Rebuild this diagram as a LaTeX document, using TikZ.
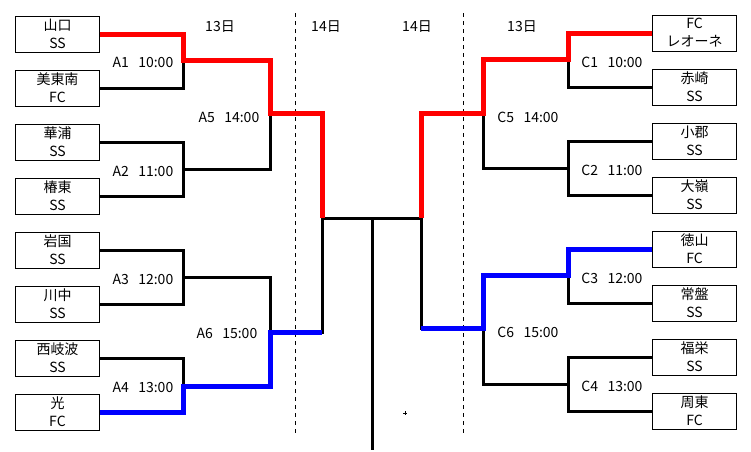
\documentclass[tikz,border=0pt]{standalone}
\usepackage{fontspec}
\setmainfont{Noto Sans CJK JP}
\usetikzlibrary{positioning, calc}
\definecolor{cred}{HTML}{FF0000}
\definecolor{cblue}{HTML}{0000FF}
\newcommand{\gap}{\hspace{7pt}}
\tikzset{
  every picture/.style={x=0.75pt, y=-0.75pt, font=\fontsize{10.5}{13.5}\selectfont},
  team/.style={draw, line width=0.75pt, minimum width=62.5pt, minimum height=27pt, align=center, inner sep=0.5pt},
  match/.style={inner sep=1pt},
  day/.style={inner sep=1pt},
  tie/.style={line width=2.25pt},
  win/.style={draw=#1, line width=3.75pt},
  win/.default=cred,
  divider/.style={line width=0.75pt, dashed},
}
\begin{document}
\begin{tikzpicture}
  \useasboundingbox (0,0) rectangle (751,451);
  % left block
  \node[team] (l1) at (57.5,34) {山口\\SS};
  \node[team] (l2) at (57.5,88) {美東南\\FC};
  \node[team] (l3) at (57.5,142) {華浦\\SS};
  \node[team] (l4) at (57.5,196) {椿東\\SS};
  \node[team] (l5) at (57.5,250) {岩国\\SS};
  \node[team] (l6) at (57.5,304) {川中\\SS};
  \node[team] (l7) at (57.5,358) {西岐波\\SS};
  \node[team] (l8) at (57.5,412) {光\\FC};
  % right block
  \node[team] (r1) at (694.5,33) {FC\\レオーネ};
  \node[team] (r2) at (694.5,87) {赤崎\\SS};
  \node[team] (r3) at (694.5,141) {小郡\\SS};
  \node[team] (r4) at (694.5,195) {大嶺\\SS};
  \node[team] (r5) at (694.5,249) {徳山\\FC};
  \node[team] (r6) at (694.5,303) {常盤\\SS};
  \node[team] (r7) at (694.5,357) {福栄\\SS};
  \node[team] (r8) at (694.5,411) {周東\\FC};
  % joints
  \coordinate (a1) at (183,60);  \coordinate (a2) at (183,169);
  \coordinate (a3) at (183,277); \coordinate (a4) at (183,386);
  \coordinate (a5) at (270,113); \coordinate (a6) at (270,332);
  \coordinate (c1) at (568,59);  \coordinate (c2) at (568,168);
  \coordinate (c3) at (568,275); \coordinate (c4) at (568,384);
  \coordinate (c5) at (483,113); \coordinate (c6) at (483,328);
  \coordinate (fl) at (322,218); \coordinate (fr) at (421,218);
  \coordinate (champ) at (372,218); \coordinate (base) at (372,450);
  % day labels and dividers
  \node[day] (d1) at (220,27) {13日};
  \node[day] (d2) at (326,27) {14日};
  \node[day] (d3) at (417,27) {14日};
  \node[day] (d4) at (522,27) {13日};
  \draw[divider] (295,13) -- (295,436);
  \draw[divider] (463,13) -- (463,436);
  % match labels
  \node[match] at (143,62) {A1\gap10:00};
  \node[match] at (143,171) {A2\gap11:00};
  \node[match] at (143,279) {A3\gap12:00};
  \node[match] at (143,387) {A4\gap13:00};
  \node[match] at (229,117) {A5\gap14:00};
  \node[match] at (227,333) {A6\gap15:00};
  \node[match] at (612,62) {C1\gap10:00};
  \node[match] at (612,170) {C2\gap11:00};
  \node[match] at (612,278) {C3\gap12:00};
  \node[match] at (612,386) {C4\gap13:00};
  \node[match] at (528,117) {C5\gap14:00};
  \node[match] at (528,332) {C6\gap15:00};
  % brackets
  \draw[tie] (l1.east) -| (a1); \draw[tie] (l2.east) -| (a1);
  \draw[tie] (l3.east) -| (a2); \draw[tie] (l4.east) -| (a2);
  \draw[tie] (l5.east) -| (a3); \draw[tie] (l6.east) -| (a3);
  \draw[tie] (l7.east) -| (a4); \draw[tie] (l8.east) -| (a4);
  \draw[tie] (a1) -| (a5); \draw[tie] (a2) -| (a5);
  \draw[tie] (a3) -| (a6); \draw[tie] (a4) -| (a6);
  \draw[tie] (a5) -| (fl); \draw[tie] (a6) -| (fl);
  \draw[tie] (r1.west) -| (c1); \draw[tie] (r2.west) -| (c1);
  \draw[tie] (r3.west) -| (c2); \draw[tie] (r4.west) -| (c2);
  \draw[tie] (r5.west) -| (c3); \draw[tie] (r6.west) -| (c3);
  \draw[tie] (r7.west) -| (c4); \draw[tie] (r8.west) -| (c4);
  \draw[tie] (c1) -| (c5); \draw[tie] (c2) -| (c5);
  \draw[tie] (c3) -| (c6); \draw[tie] (c4) -| (c6);
  \draw[tie] (c5) -| (fr); \draw[tie] (c6) -| (fr);
  \draw[tie] (fl) -- (fr);
  \draw[tie] (champ) -- (base);
  % winners
  \draw[win] (l1.east) -| (a1) -| (a5) -| (fl);
  \draw[win] (r1.west) -| (c1) -| (c5) -| (fr);
  \draw[win=cblue] (l8.east) -| (a4) -| (a6) -- (a6 -| fl);
  \draw[win=cblue] (r5.west) -| (c3) -| (c6) -- (c6 -| fr);
  \draw[line width=0.5pt] (403,413) -- (407,413) (405,411) -- (405,415);
\end{tikzpicture}
\end{document}
